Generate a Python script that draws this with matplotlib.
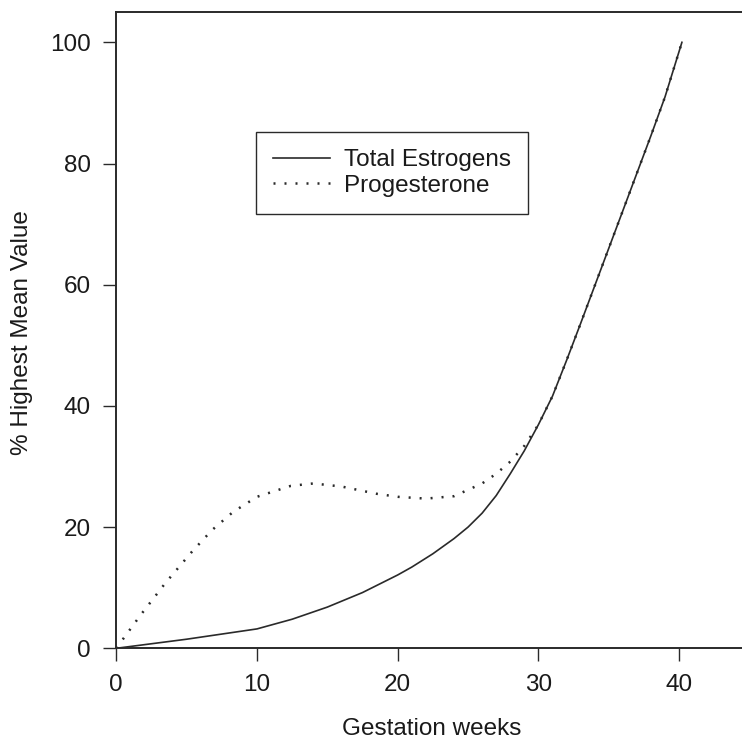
import matplotlib
matplotlib.use("Agg")
from matplotlib import pyplot as plt

plt.rc('font', family='Liberation Sans')

# gestation weeks / % of highest mean value
estro_weeks = [0, 5, 10, 12.5, 15, 17.5, 20, 21, 22.5, 24, 25, 26, 27, 28, 29, 30,
               31, 32, 33, 34, 35, 36, 37, 38, 39, 40.2]
estro_pct = [0, 1.5, 3.2, 4.8, 6.8, 9.2, 12.1, 13.4, 15.6, 18.1, 20, 22.3, 25.2, 28.8, 32.6, 36.9,
             41.6, 47.5, 53.6, 59.8, 66.0, 72.2, 78.4, 84.6, 91.0, 100]

prog_weeks = [0, 1.7, 3.5, 5.4, 6.8, 8.3, 10, 12.4, 14, 16, 18.5, 20, 22, 24, 26, 27, 28, 29,
              30, 31, 32, 33, 34, 35, 36, 37, 38, 39, 40.2]
prog_pct = [0, 5.4, 10.8, 16, 19.5, 22.5, 25, 26.8, 27.2, 26.7, 25.5, 25, 24.7, 25.1, 27.2, 28.8, 30.8, 33.4,
            36.9, 41.6, 47.5, 53.6, 59.8, 66.0, 72.2, 78.4, 84.6, 91.0, 100]

xticks = [0, 10, 20, 30, 40]
yticks = [0, 20, 40, 60, 80, 100]

ink = '#2a2a2a'
fs = 17.5

fig = plt.figure(figsize=(7.42, 7.41), dpi=100)
ax = fig.add_axes([0.1567, 0.1251, 0.8433, 0.8587])

ax.plot(estro_weeks, estro_pct, color=ink, linewidth=1.2, label='Total Estrogens')
ax.plot(prog_weeks, prog_pct, color=ink, linewidth=1.8, linestyle=(0, (0.8, 3.6)),
        label='Progesterone')

ax.set_xlim(0, 44.47)
ax.set_ylim(0, 105.0)
ax.set_xticks(xticks)
ax.set_yticks(yticks)
ax.tick_params(direction='out', length=9.4, width=1.0, color=ink, pad=9,
               labelsize=fs, labelcolor='#1a1a1a')

ax.spines['right'].set_visible(False)
for s in ['left', 'bottom', 'top']:
    ax.spines[s].set_linewidth(1.4)
    ax.spines[s].set_color(ink)

fig.text(432 / 742, 1 - 729 / 741, 'Gestation weeks', ha='center', va='center',
         fontsize=fs, color='#1a1a1a')
fig.text(22 / 742, 1 - 333 / 741, '% Highest Mean Value', ha='center', va='center',
         rotation=90, fontsize=fs, color='#1a1a1a')

leg = ax.legend(loc='upper left', bbox_to_anchor=(256 / 742, 1 - 132 / 741),
                bbox_transform=fig.transFigure, borderaxespad=0, fontsize=fs,
                handlelength=2.35, handletextpad=0.55, labelspacing=0.15,
                borderpad=0.7, fancybox=False, framealpha=1)
leg.get_frame().set_edgecolor(ink)
leg.get_frame().set_linewidth(1.0)
for t in leg.get_texts():
    t.set_color('#1a1a1a')

plt.savefig("out.png", dpi=100)
plt.close()
